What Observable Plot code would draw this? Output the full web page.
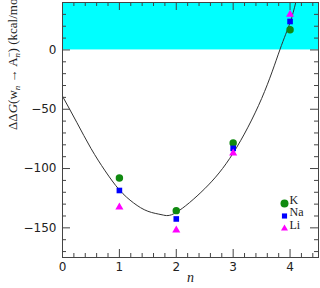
<!DOCTYPE html>
<html>
<head>
<meta charset="utf-8">
<script src="https://cdn.jsdelivr.net/npm/d3@7"></script>
<script src="https://cdn.jsdelivr.net/npm/@observablehq/plot@0.6"></script>
<style>
  html, body { margin: 0; padding: 0; background: #fff; }
  #chart { width: 320px; height: 288px; }
</style>
</head>
<body>
<div id="chart"></div>
<script>
// ---- data ----
const nValues = [1, 2, 3, 4];
const seriesNames = ["K", "Na", "Li"];
const valuesK  = [-108, -135.5, -78.5, 17];
const valuesNa = [-118.5, -142.5, -83, 24];
const valuesLi = [-132.5, -152, -87, 30];
// fitted curve, sampled by eye from the reference
const curveN = [0, 0.25, 0.5, 0.75, 1, 1.25, 1.5, 1.75, 2, 2.5, 3, 3.5, 3.82, 4, 4.1];
const curveY = [-39, -61, -83, -102, -118, -129, -136, -139, -137, -117, -87, -41, 0, 23, 40];
const xTickLabels = [0, 1, 2, 3, 4];
const yTickLabels = [0, -50, -100, -150];
const xDomain = [0, 4.5];
const yDomain = [-175, 40];
const yLabel = "ΔΔG(wn → An−) (kcal/mol)";

// ---- styling ----
const W = 320, H = 288;
const M = {top: 2, right: 2, bottom: 31, left: 62};
const frameH = H - M.top - M.bottom;
const frameW = W - M.left - M.right;
const colors = {K: "#108a10", Na: "#0000ff", Li: "#ff00ff"};
const symbols = {K: "circle", Na: "square", Li: "triangle"};
const radii = {K: 4, Na: 2.9, Li: 2.6};
const axisColor = "#444";
const serif = "'Liberation Serif', 'DejaVu Serif', serif";
const sans = "'DejaVu Sans', sans-serif";

const seriesValues = {K: valuesK, Na: valuesNa, Li: valuesLi};
const points = seriesNames.flatMap(s => nValues.map((n, i) => ({series: s, n, v: seriesValues[s][i]})));
const curve = curveN.map((n, i) => ({n, v: curveY[i]}));

const xMinor = d3.range(0, 4.5001, 0.2).map(d => +d.toFixed(2)).filter(d => !xTickLabels.includes(d));
const yMinor = d3.range(-170, 40, 10).filter(d => !yTickLabels.includes(d));
const fmt = d => d < 0 ? "\u2212" + (-d) : String(d);

const major = 8, minor = 4;
const tickMarks = [
  Plot.tickX(xTickLabels, {x: d => d, insetTop: frameH - major, stroke: axisColor}),
  Plot.tickX(xTickLabels, {x: d => d, insetBottom: frameH - major, stroke: axisColor}),
  Plot.tickX(xMinor, {x: d => d, insetTop: frameH - minor, stroke: axisColor}),
  Plot.tickX(xMinor, {x: d => d, insetBottom: frameH - minor, stroke: axisColor}),
  Plot.tickY(yTickLabels, {y: d => d, insetRight: frameW - major, stroke: axisColor}),
  Plot.tickY(yTickLabels, {y: d => d, insetLeft: frameW - major, stroke: axisColor}),
  Plot.tickY(yMinor, {y: d => d, insetRight: frameW - minor, stroke: axisColor}),
  Plot.tickY(yMinor, {y: d => d, insetLeft: frameW - minor, stroke: axisColor})
];

const legendMarks = seriesNames.flatMap((s, i) => [
  Plot.dot([s], {frameAnchor: "bottom-right", dx: -34, dy: -54 + i * 12.5, symbol: symbols[s], r: radii[s], fill: colors[s], stroke: "none"}),
  Plot.text([s], {frameAnchor: "bottom-right", dx: -29, dy: -54 + i * 12.5, text: d => d, textAnchor: "start", fontFamily: serif, fontSize: 12, fill: "#222"})
]);

const plot = Plot.plot({
  width: W, height: H,
  marginTop: M.top, marginRight: M.right, marginBottom: M.bottom, marginLeft: M.left,
  style: {fontFamily: sans, fontSize: "12px", background: "#fff", color: "#222"},
  x: {domain: xDomain},
  y: {domain: yDomain},
  marks: [
    Plot.rect([{y1: 0, y2: yDomain[1]}], {y1: "y1", y2: "y2", fill: "#00ffff"}),
    Plot.line(curve, {x: "n", y: "v", curve: "natural", stroke: "#333", strokeWidth: 1, clip: true}),
    Plot.dot(points, {x: "n", y: "v", symbol: d => symbols[d.series], r: d => radii[d.series], fill: d => colors[d.series], stroke: "none"}),
    Plot.frame({stroke: axisColor}),
    ...tickMarks,
    Plot.axisX({ticks: xTickLabels, tickSize: 0, tickPadding: 5, tickFormat: fmt, label: null, fontSize: 12}),
    Plot.axisY({ticks: yTickLabels, tickSize: 0, tickPadding: 6, tickFormat: fmt, label: null, fontSize: 12}),
    Plot.text(["n"], {frameAnchor: "bottom", dy: 24, text: d => d, fontFamily: serif, fontStyle: "italic", fontSize: 14, fill: "#222"}),
    Plot.text([yLabel], {frameAnchor: "left", dx: -50, rotate: -90, text: d => d, fontFamily: serif, fontSize: 13, fill: "#222"}),
    ...legendMarks
  ]
});
document.getElementById("chart").appendChild(plot);

// rich formatting of the y label (sub/superscripts)
d3.select(plot).selectAll("text").filter(function() { return this.textContent === yLabel; }).each(function() {
  const t = d3.select(this);
  t.text(null);
  t.append("tspan").text("ΔΔ");
  t.append("tspan").attr("font-style", "italic").text("G");
  t.append("tspan").text("(w");
  t.append("tspan").attr("font-size", 9).attr("font-style", "italic").attr("dy", 3).text("n");
  t.append("tspan").attr("dy", -3).text(" \u2192 A");
  t.append("tspan").attr("font-size", 9).attr("font-style", "italic").attr("dy", 3).text("n");
  t.append("tspan").attr("font-size", 9).attr("dx", -4.5).attr("dy", -8).text("\u2212");
  t.append("tspan").attr("dy", 5).text(") (kcal/mol)");
});
</script>
</body>
</html>
